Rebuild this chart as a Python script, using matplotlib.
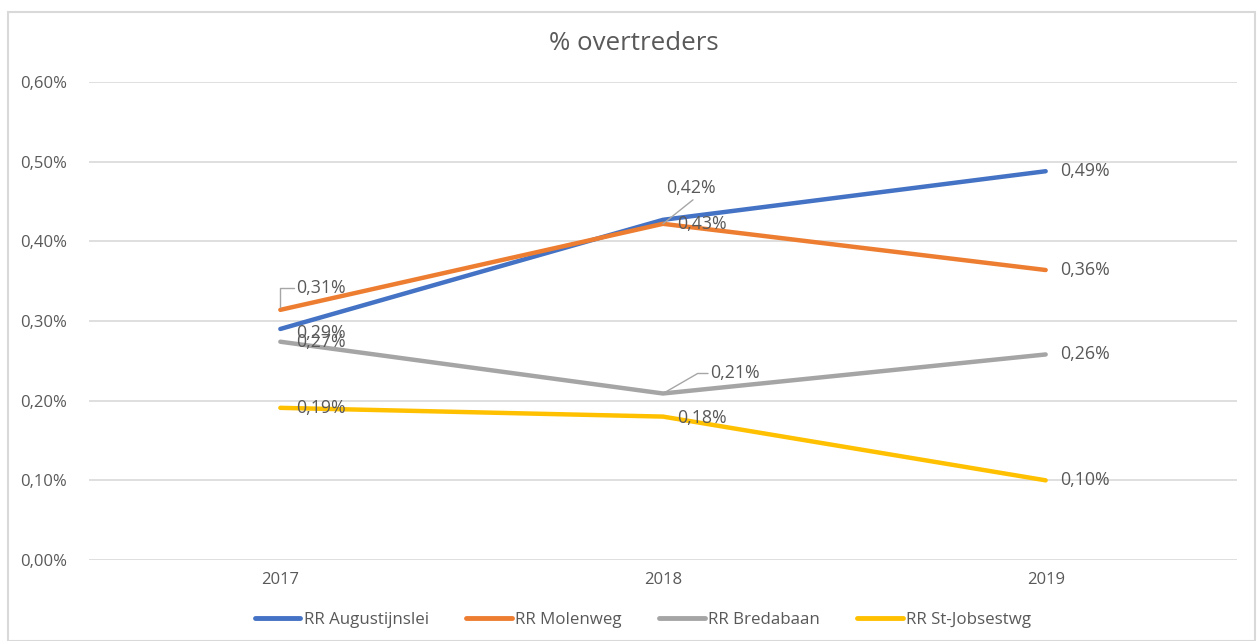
import matplotlib
matplotlib.use("Agg")
import matplotlib.pyplot as plt
from matplotlib.patches import Rectangle

plt.rcParams['font.family'] = ['Open Sans', 'DejaVu Sans']

years = ["2017", "2018", "2019"]
augustijnslei = [0.29, 0.427, 0.488]
molenweg = [0.314, 0.422, 0.364]
bredabaan = [0.274, 0.209, 0.258]
st_jobsestwg = [0.191, 0.180, 0.100]
series_names = ["RR Augustijnslei", "RR Molenweg", "RR Bredabaan", "RR St-Jobsestwg"]
colors = ["#4472C4", "#ED7D31", "#A5A5A5", "#FFC000"]
yticks = [0.0, 0.1, 0.2, 0.3, 0.4, 0.5, 0.6]

W, H = 1260, 641
fig = plt.figure(figsize=(W / 100, H / 100), dpi=100)
ax = fig.add_axes([89 / W, 1 - 560 / H, (1237 - 89) / W, (560 - 82) / H])

x = list(range(len(years)))
all_series = [augustijnslei, molenweg, bredabaan, st_jobsestwg]
for vals, name, c in zip(all_series, series_names, colors):
    ax.plot(x, vals, color=c, lw=3.2, label=name, solid_capstyle='round', zorder=3)

ax.set_xlim(-0.5, len(years) - 0.5)
ax.set_ylim(0, 0.6)
ax.set_yticks(yticks)
ax.set_yticklabels([f"{v:.2f}%".replace(".", ",") for v in yticks])
ax.set_xticks(x)
ax.set_xticklabels(years)
ax.tick_params(axis='both', length=0, labelsize=12, colors="#595959")
ax.tick_params(axis='y', pad=16)
ax.tick_params(axis='x', pad=9)
ax.grid(axis='y', color="#D9D9D9", lw=1.2, zorder=0)
for s in ax.spines.values():
    s.set_visible(False)

def fmt(v):
    return f"{v:.2f}%".replace(".", ",")

tc = "#595959"
fs = 12.8
lc = "#A6A6A6"

def lab(xi, v, dx, dy):
    ax.annotate(fmt(v), xy=(xi, v), xytext=(dx, dy), textcoords='offset pixels',
                ha='left', va='center', fontsize=fs, color=tc, zorder=5)

# 2017 labels
lab(0, augustijnslei[0], 16, -4)
lab(0, bredabaan[0], 16, 0)
lab(0, st_jobsestwg[0], 16, 0)
# molenweg 2017 with leader
ax.annotate(fmt(molenweg[0]), xy=(0, molenweg[0]), xytext=(16, 22),
            textcoords='offset pixels', ha='left', va='center', fontsize=fs, color=tc, zorder=5)
ax.annotate("", xy=(0, molenweg[0]), xytext=(14, 22), textcoords='offset pixels',
            arrowprops=dict(arrowstyle='-', color=lc, lw=1,
                            connectionstyle="angle,angleA=0,angleB=90,rad=0",
                            shrinkA=0, shrinkB=2))

# 2018 labels
lab(1, augustijnslei[1], 14, -4)
ax.annotate(fmt(molenweg[1]), xy=(1, molenweg[1]), xytext=(3, 36),
            textcoords='offset pixels', ha='left', va='center', fontsize=fs, color=tc, zorder=5)
ax.annotate("", xy=(1, molenweg[1]), xytext=(30, 24), textcoords='offset pixels',
            arrowprops=dict(arrowstyle='-', color=lc, lw=1, shrinkA=0, shrinkB=0))
ax.annotate(fmt(bredabaan[1]), xy=(1, bredabaan[1]), xytext=(47, 20),
            textcoords='offset pixels', ha='left', va='center', fontsize=fs, color=tc, zorder=5)
ax.annotate("", xy=(1, bredabaan[1]), xytext=(45, 20), textcoords='offset pixels',
            arrowprops=dict(arrowstyle='-', color=lc, lw=1,
                            connectionstyle="angle,angleA=0,angleB=30,rad=0",
                            shrinkA=0, shrinkB=0))
lab(1, st_jobsestwg[1], 14, -1)

# 2019 labels
for vals in all_series:
    lab(2, vals[2], 14, 0)

fig.text(634 / W, 1 - 44 / H, "% overtreders", ha='center', va='center',
         fontsize=18.6, color=tc)

leg = fig.legend(loc='center', bbox_to_anchor=(643 / W, 1 - 620 / H), ncol=4,
                 frameon=False, fontsize=12.2, labelcolor=tc, handlelength=2.7,
                 handletextpad=0.2, columnspacing=2.2)
for h in leg.get_lines():
    h.set_linewidth(3.5)

fig.patches.append(Rectangle((8 / W, 0), (1255 - 8) / W, 1 - 12 / H, transform=fig.transFigure,
                             fill=False, edgecolor="#D9D9D9", lw=1.5))

fig.savefig("out.png", dpi=100)
